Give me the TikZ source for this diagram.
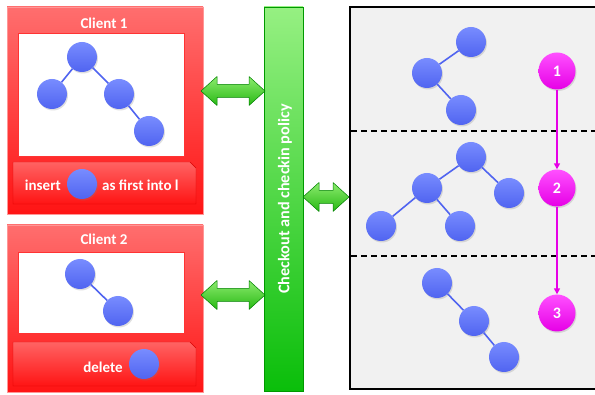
\documentclass[tikz,border=0pt]{standalone}
\usepackage{fontspec}
\setmainfont{Carlito}
\usetikzlibrary{arrows.meta,shadows}
\definecolor{bluenode}{RGB}{80,100,240}
\definecolor{bluetop}{RGB}{120,140,255}
\definecolor{redtop}{RGB}{255,110,110}
\definecolor{redbot}{RGB}{255,20,20}
\definecolor{redline}{RGB}{255,150,150}
\definecolor{greentop}{RGB}{150,240,130}
\definecolor{greenbot}{RGB}{10,190,10}
\definecolor{garrtop}{RGB}{140,235,110}
\definecolor{garrbot}{RGB}{40,185,20}
\definecolor{magtop}{RGB}{255,80,255}
\definecolor{magbot}{RGB}{230,0,230}
\definecolor{panelgray}{RGB}{241,241,241}
\tikzset{
  tn/.style={circle, minimum size=30pt, inner sep=0pt, top color=bluetop, bottom color=bluenode,
    drop shadow={opacity=0.25, shadow xshift=1pt, shadow yshift=-1.5pt}},
  te/.style={draw=bluenode, line width=1.6pt},
  client/.style={draw=redline, line width=0.8pt, top color=redtop, bottom color=redbot},
  inner/.style={draw=red!80, line width=0.8pt, fill=white},
  button/.style={draw=red!85!black, line width=0.4pt, top color=redtop!90!red, bottom color=redbot},
  wtext/.style={text=white, font=\fontsize{15}{18}\selectfont\bfseries, inner sep=0pt},
  ptext/.style={text=white, font=\fontsize{16.2}{19}\selectfont\bfseries, inner sep=0pt},
  garrow/.style={draw=green!50!black, line width=0.5pt, line join=round,
    top color=garrtop, bottom color=garrbot},
  mnode/.style={circle, minimum size=37pt, inner sep=0pt, top color=magtop, bottom color=magbot,
    text=white, font=\fontsize{16}{18}\selectfont\bfseries,
    drop shadow={opacity=0.25, shadow xshift=1pt, shadow yshift=-1.5pt}},
  marrow/.style={draw=magbot, line width=1.5pt, -{Triangle[length=6pt,width=6pt]}},
  sep/.style={draw=black, line width=1.6pt, dash pattern=on 6pt off 4pt},
}
% double block arrow: #1 = left x, #2 = length, #3 = centre y
\newcommand\dblarrow[3]{%
  \draw[garrow] (#1,#3) -- ++(16,-14.5) -- ++(0,8) -- ++(#2-32,0) -- ++(0,-8)
    -- ++(16,14.5) -- ++(-16,14.5) -- ++(0,-8) -- ++(-#2+32,0) -- ++(0,8) -- cycle;}
\begin{document}
\begin{tikzpicture}[x=1pt,y=-1pt]
\clip (0,0) rectangle (595,395);
\useasboundingbox (0,0) rectangle (595,395);
% ---------- Client 1 ----------
\draw[client] (7,7) rectangle (203,214);
\node[wtext] (t1) at (104,23) {Client 1};
\draw[inner] (18,33) rectangle (184,156);
\draw[button] (13,162) -- (190,162) -- (196,168) -- (196,204) -- (13,204) -- cycle;
\node[tn] (c1a) at (82,57) {};
\node[tn] (c1b) at (52,94) {};
\node[tn] (c1c) at (119,94) {};
\node[tn] (c1d) at (149,131) {};
\draw[te] (c1a) -- (c1b);
\draw[te] (c1a) -- (c1c);
\draw[te] (c1c) -- (c1d);
\node[wtext, anchor=east] (ins) at (61,185) {insert};
\node[tn] (c1n) at (82,184) {};
\node[wtext, anchor=west] (asf) at (102,185) {as first into l};
% ---------- Client 2 ----------
\draw[client] (7,225) rectangle (203,392);
\node[wtext] (t2) at (104,239) {Client 2};
\draw[inner] (18,252) rectangle (184,333);
\draw[button] (13,342) -- (190,342) -- (196,348) -- (196,386) -- (13,386) -- cycle;
\node[tn] (c2a) at (80,274) {};
\node[tn] (c2b) at (118,311) {};
\draw[te] (c2a) -- (c2b);
\node[wtext] (del) at (103,367) {delete};
\node[tn] (c2n) at (144,364) {};
% ---------- policy bar ----------
\draw[draw=green!60!black, line width=0.4pt, top color=greentop, bottom color=greenbot] (264,7) rectangle (303,391);
\node[ptext, rotate=90] (pol) at (285,199) {Checkout and checkin policy};
\dblarrow{201}{64}{91}
\dblarrow{201}{64}{295}
\dblarrow{303}{46}{197}
% ---------- right panel ----------
\draw[fill=panelgray, draw=black, line width=1.8pt] (350,7) rectangle (610,389);
\draw[sep] (351,131) -- (600,131);
\draw[sep] (351,256) -- (600,256);
% top tree
\node[tn] (r1a) at (471,42) {};
\node[tn] (r1b) at (427,73) {};
\node[tn] (r1c) at (461,110) {};
\draw[te] (r1b) -- (r1a);
\draw[te] (r1b) -- (r1c);
% middle tree
\node[tn] (r2a) at (471,157) {};
\node[tn] (r2b) at (427,188) {};
\node[tn] (r2c) at (509,193) {};
\node[tn] (r2d) at (381,226) {};
\node[tn] (r2e) at (460,226) {};
\draw[te] (r2a) -- (r2b);
\draw[te] (r2a) -- (r2c);
\draw[te] (r2b) -- (r2d);
\draw[te] (r2b) -- (r2e);
% bottom tree
\node[tn] (r3a) at (437,283) {};
\node[tn] (r3b) at (474,321) {};
\node[tn] (r3c) at (504,357) {};
\draw[te] (r3a) -- (r3b);
\draw[te] (r3b) -- (r3c);
% versions
\node[mnode] (m1) at (557,71) {1};
\node[mnode] (m2) at (557,188) {2};
\node[mnode] (m3) at (557,313) {3};
\draw[marrow] (m1) -- (m2);
\draw[marrow] (m2) -- (m3);
\end{tikzpicture}
\end{document}
